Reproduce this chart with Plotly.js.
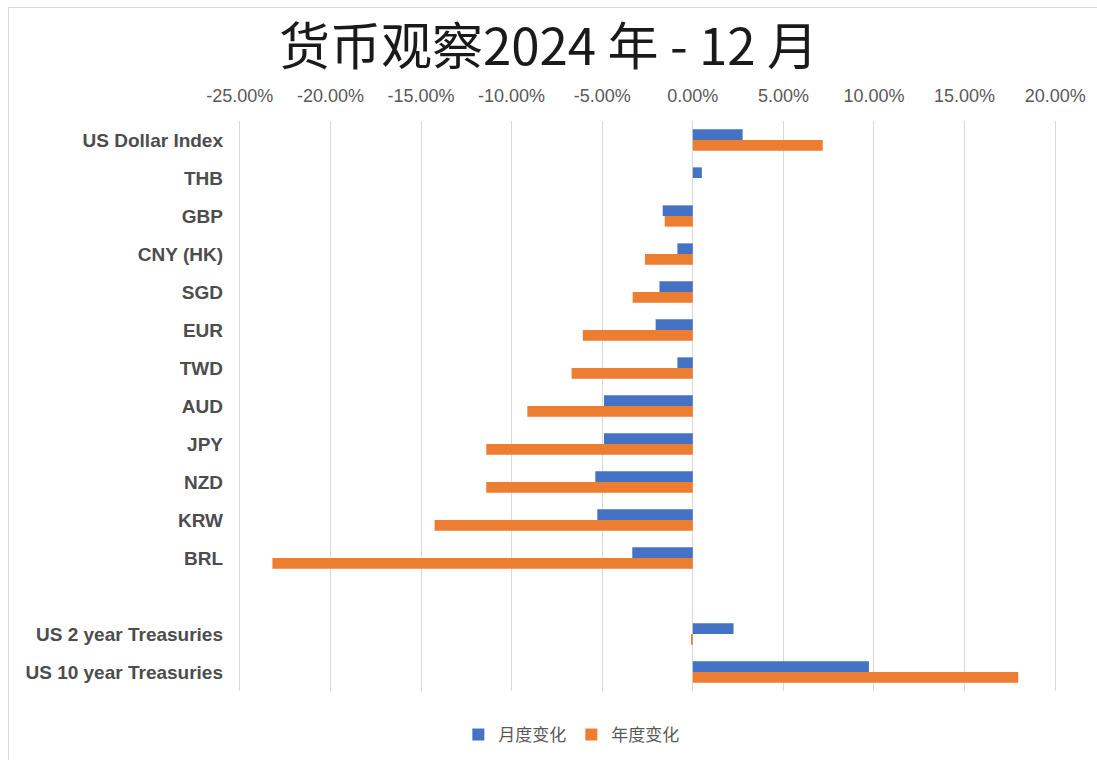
<!DOCTYPE html>
<html>
<head>
<meta charset="utf-8">
<script src="https://cdn.plot.ly/plotly-3.0.1.min.js"></script>
<style>
html,body{margin:0;padding:0;background:#fff;}
#wrap{position:relative;width:1097px;height:760px;overflow:hidden;}
#chart{position:absolute;left:0;top:0;width:1097px;height:760px;}
#frame{position:absolute;left:8px;top:7px;width:1100px;height:760px;border:1px solid #d9d9d9;pointer-events:none;}
</style>
</head>
<body>
<div id="wrap"><div id="chart"></div><div id="frame"></div></div>
<script>
const categories = ["US Dollar Index","THB","GBP","CNY (HK)","SGD","EUR","TWD","AUD","JPY","NZD","KRW","BRL"," ","US 2 year Treasuries","US 10 year Treasuries"];
const monthlyChange = [0.0275,0.005,-0.0166,-0.0085,-0.0184,-0.0205,-0.0085,-0.049,-0.049,-0.0538,-0.0527,-0.0334,null,0.0225,0.0972];
const yearlyChange  = [0.0717,0.0,-0.0155,-0.0264,-0.0332,-0.0607,-0.0669,-0.0913,-0.114,-0.114,-0.1425,-0.232,null,-0.001,0.1796];
const seriesNames = ["月度变化","年度变化"];
const tickValues = [-0.25,-0.20,-0.15,-0.10,-0.05,0,0.05,0.10,0.15,0.20];
const tickLabels = ["-25.00%","-20.00%","-15.00%","-10.00%","-5.00%","0.00%","5.00%","10.00%","15.00%","20.00%"];

const traces = [
  {type:'bar', orientation:'h', name:seriesNames[0], y:categories, x:monthlyChange, marker:{color:'#4472C4'}, hoverinfo:'x+y'},
  {type:'bar', orientation:'h', name:seriesNames[1], y:categories, x:yearlyChange, marker:{color:'#ED7D31'}, hoverinfo:'x+y'}
];

const layout = {
  width:1097, height:760,
  paper_bgcolor:'rgba(0,0,0,0)', plot_bgcolor:'#fff',
  margin:{l:238, r:40, t:121, b:69, autoexpand:false},
  barmode:'group', bargap:0.44, bargroupgap:0,
  title:{text:'货币观察2024 年 - 12 月', x:0.5, xref:'container', xanchor:'center', y:0.938, yanchor:'middle', automargin:false,
         font:{family:'"Noto Sans CJK SC", "Liberation Sans", sans-serif', size:51, color:'#1a1a1a'}},
  xaxis:{side:'top', range:[-0.251,0.201], tickvals:tickValues, ticktext:tickLabels, tickangle:0, automargin:false,
         showgrid:true, gridcolor:'#d9d9d9', gridwidth:1, zeroline:true, zerolinecolor:'#d9d9d9', zerolinewidth:1,
         showline:false, ticks:'', ticklabelstandoff:14,
         tickfont:{family:'"Liberation Sans Narrow", "Liberation Sans", sans-serif', size:18, color:'#595959'}, fixedrange:true},
  yaxis:{type:'category', autorange:'reversed', showgrid:false, zeroline:false, showline:false, ticks:'', automargin:false,
         ticklabelstandoff:14,
         tickfont:{family:'"Liberation Sans", Arial, sans-serif', size:19, color:'#4d4d4d', weight:'bold'}, fixedrange:true},
  legend:{orientation:'h', x:0.407, xanchor:'center', y:-0.077, yanchor:'middle',
          font:{family:'"Noto Sans CJK SC", sans-serif', size:17, color:'#595959'}, itemwidth:30, traceorder:'normal'},
  showlegend:true
};

Plotly.newPlot('chart', traces, layout, {displayModeBar:false, staticPlot:true});
</script>
</body>
</html>
